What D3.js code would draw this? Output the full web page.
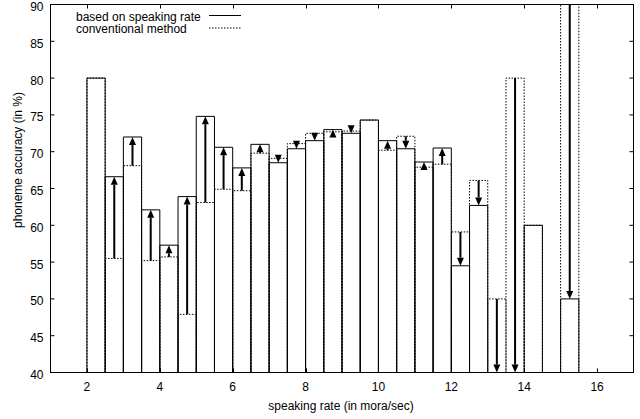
<!DOCTYPE html>
<html><head><meta charset="utf-8">
<script src="https://cdn.jsdelivr.net/npm/d3@7"></script>
<style>
html,body{margin:0;padding:0;background:#fff;}
svg text{font-family:"Liberation Sans",Arial,Helvetica,sans-serif;font-size:12px;fill:#000;}
</style></head>
<body><svg id="chart" width="640" height="419"></svg>
<script>
// speaking-rate bins (lower bound, mora/sec)
const rates = [2.0,2.5,3.0,3.5,4.0,4.5,5.0,5.5,6.0,6.5,7.0,7.5,8.0,8.5,9.0,9.5,10.0,10.5,11.0,11.5,12.0,12.5,13.0,13.5,14.0,14.5,15.0];
// phoneme accuracy, model based on speaking rate
const basedOnRate = [80,66.6,72.0,62.1,57.3,63.9,74.8,70.6,67.8,71.0,68.5,70.4,71.5,73.0,72.5,74.3,71.5,70.4,68.6,70.5,54.5,62.7,40,40,60,null,50];
// phoneme accuracy, conventional method
const conventional = [80,55.5,68.1,55.2,55.7,47.9,63.1,64.9,64.7,69.8,69.1,71.1,72.5,72.7,72.8,74.3,70.2,72.1,67.9,68.3,59.1,66.1,50,80,60,null,100];
const binWidth = 0.5;
const xTicks = [2,4,6,8,10,12,14,16];
const yTicks = [40,45,50,55,60,65,70,75,80,85,90];
const legendLabels = ["based on speaking rate","conventional method"];

const svg = d3.select("#chart");
const L = 50.5, R = 633.5, T = 4.5, B = 372.5;
const x = d3.scaleLinear().domain([1,17]).range([L,R]);
const y = d3.scaleLinear().domain([40,90]).range([B,T]);

svg.append("defs").append("clipPath").attr("id","plotclip")
  .append("rect").attr("x",L).attr("y",T).attr("width",R-L).attr("height",B-T);

const plot = svg.append("g").attr("clip-path","url(#plotclip)");
const data = rates.map((r,i)=>({r, s: basedOnRate[i], c: conventional[i]}));

function boxPath(r, v){
  const x0 = x(r), x1 = x(r+binWidth), y0 = y(40), y1 = y(Math.min(v,95));
  return `M${x0},${y0}V${y1}H${x1}V${y0}`;
}
// conventional (dotted)
plot.selectAll("path.conv").data(data.filter(d=>d.c!=null)).join("path")
  .attr("class","conv").attr("d",d=>boxPath(d.r,d.c))
  .attr("fill","none").attr("stroke","#000").attr("stroke-width",1)
  .attr("stroke-dasharray","1.5,1.5");
// based on speaking rate (solid)
plot.selectAll("path.solid").data(data.filter(d=>d.s!=null)).join("path")
  .attr("class","solid").attr("d",d=>boxPath(d.r,d.s))
  .attr("fill","none").attr("stroke","#000").attr("stroke-width",1);

// arrows
const headLen = 8, headW = 3.5;
const arrows = data.filter(d=>d.s!=null && d.c!=null && Math.abs(d.s-d.c)>0.05);
const ag = plot.append("g");
arrows.forEach(d=>{
  const cx = x(d.r+binWidth/2);
  const yFrom = y(Math.min(d.c,90)), yTip = y(d.s);
  const dir = yTip < yFrom ? -1 : 1; // -1: up
  const yBase = yTip - dir*headLen;
  if ((yBase - yFrom)*dir > 0){
    ag.append("line").attr("x1",cx).attr("x2",cx).attr("y1",yFrom).attr("y2",yBase)
      .attr("stroke","#000").attr("stroke-width",2);
  }
  ag.append("path").attr("d",`M${cx},${yTip}L${cx-headW},${yBase}L${cx+headW},${yBase}Z`)
    .attr("fill","#000");
});

// frame
svg.append("rect").attr("x",L).attr("y",T).attr("width",R-L).attr("height",B-T)
  .attr("fill","none").attr("stroke","#000").attr("stroke-width",1);

// ticks (inward, mirrored)
const tl = 4;
const tg = svg.append("g").attr("stroke","#000").attr("stroke-width",1);
xTicks.forEach(t=>{
  const xx = Math.round(x(t))+0.5;
  tg.append("line").attr("x1",xx).attr("x2",xx).attr("y1",B).attr("y2",B-tl);
  tg.append("line").attr("x1",xx).attr("x2",xx).attr("y1",T).attr("y2",T+tl);
});
yTicks.forEach(t=>{
  const yy = y(t);
  tg.append("line").attr("x1",L).attr("x2",L+tl).attr("y1",yy).attr("y2",yy);
  tg.append("line").attr("x1",R).attr("x2",R-tl).attr("y1",yy).attr("y2",yy);
});

// tick labels
svg.append("g").selectAll("text").data(xTicks).join("text")
  .attr("x",d=>x(d)).attr("y",391).attr("text-anchor","middle").text(d=>d);
svg.append("g").selectAll("text").data(yTicks).join("text")
  .attr("x",43.5).attr("y",d=>y(d)+6.5).attr("text-anchor","end").text(d=>d);

// axis titles
svg.append("text").attr("x",341).attr("y",409.5).attr("text-anchor","middle")
  .text("speaking rate (in mora/sec)");
svg.append("text").attr("transform","translate(22,160) rotate(-90)").attr("text-anchor","middle")
  .text("phoneme accuracy (in %)");

// legend
const lg = svg.append("g");
legendLabels.forEach((lab,i)=>{
  lg.append("text").attr("x",76).attr("y",20.5+i*12.5).text(lab);
  lg.append("line").attr("x1",209).attr("x2",241).attr("y1",15.5+i*12.5).attr("y2",15.5+i*12.5)
    .attr("stroke","#000").attr("stroke-width",1)
    .attr("stroke-dasharray", i===0 ? null : "1.5,1.5");
});
</script></body></html>
